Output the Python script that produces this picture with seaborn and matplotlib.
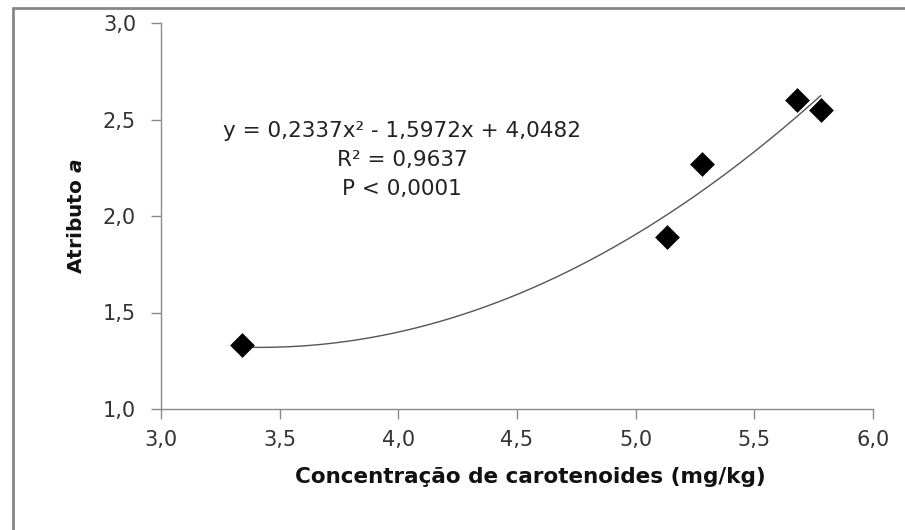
import numpy as np
import pandas as pd
import matplotlib
matplotlib.use("Agg")
import matplotlib.pyplot as plt
from matplotlib.ticker import FuncFormatter, MultipleLocator
from matplotlib.lines import Line2D
import seaborn as sns

# Data
carotenoides = [3.34, 5.13, 5.28, 5.68, 5.78]
atributo_a = [1.33, 1.89, 2.27, 2.60, 2.55]
# Excel polynomial trendline coefficients (shown on chart)
trend_coef = [0.2337, -1.5972, 4.0482]
annot_lines = ["y = 0,2337x² - 1,5972x + 4,0482", "R² = 0,9637", "P < 0,0001"]

sns.set_theme(style="white")
plt.rcParams['font.family'] = ['DejaVu Sans']
plt.rcParams['mathtext.fontset'] = 'dejavusans'

fig = plt.figure(figsize=(9.05, 5.30), dpi=100)
ax = fig.add_axes([161/905, 1 - 409/530, (873-161)/905, (409-23)/530])

df = pd.DataFrame({"x": carotenoides, "y": atributo_a})
xs = np.linspace(min(carotenoides), max(carotenoides), 200)
tr = pd.DataFrame({"x": xs, "y": np.polyval(trend_coef, xs)})
sns.lineplot(data=tr, x="x", y="y", ax=ax, color="#555555", linewidth=1.0, zorder=2)
sns.scatterplot(data=df, x="x", y="y", ax=ax, marker="D", s=160, color="black",
                edgecolor="black", linewidth=0, zorder=3)

ax.set_xlim(3.0, 6.0)
ax.set_ylim(1.0, 3.0)
ax.xaxis.set_major_locator(MultipleLocator(0.5))
ax.yaxis.set_major_locator(MultipleLocator(0.5))
fmt = FuncFormatter(lambda v, p: f"{v:.1f}".replace(".", ","))
ax.xaxis.set_major_formatter(fmt)
ax.yaxis.set_major_formatter(fmt)

for s in ["top", "right"]:
    ax.spines[s].set_visible(False)
for s in ["left", "bottom"]:
    ax.spines[s].set_color("#8a8a8a")
    ax.spines[s].set_linewidth(1.0)

ax.tick_params(axis="both", which="major", direction="out", length=7, width=1.0,
               color="#8a8a8a", labelsize=15, labelcolor="#333333")
ax.tick_params(axis="x", pad=8, bottom=True)
ax.tick_params(axis="y", pad=11, left=True)

ax.set_xlabel("Concentração de carotenoides (mg/kg)", fontsize=15.5, fontweight="bold",
              color="#111111", labelpad=12)
ax.xaxis.label.set_x((530 - 161) / 712)
ax.set_ylabel(r"Atributo $\mathbfit{a}$", fontsize=14.5, fontweight="bold",
              color="#111111", labelpad=12)

for i, line in enumerate(annot_lines):
    fig.text(402/905, 1 - (131 + 29*i)/530, line, fontsize=15.5, color="#222222",
             ha="center", va="center")

# Figure border (left and top only visible in the crop)
fig.add_artist(Line2D([13/905, 13/905], [0, 1 - 8/530], transform=fig.transFigure,
                      color="#868686", linewidth=2))
fig.add_artist(Line2D([13/905, 1], [1 - 8/530, 1 - 8/530], transform=fig.transFigure,
                      color="#868686", linewidth=2))

fig.savefig("out.png", dpi=100)
